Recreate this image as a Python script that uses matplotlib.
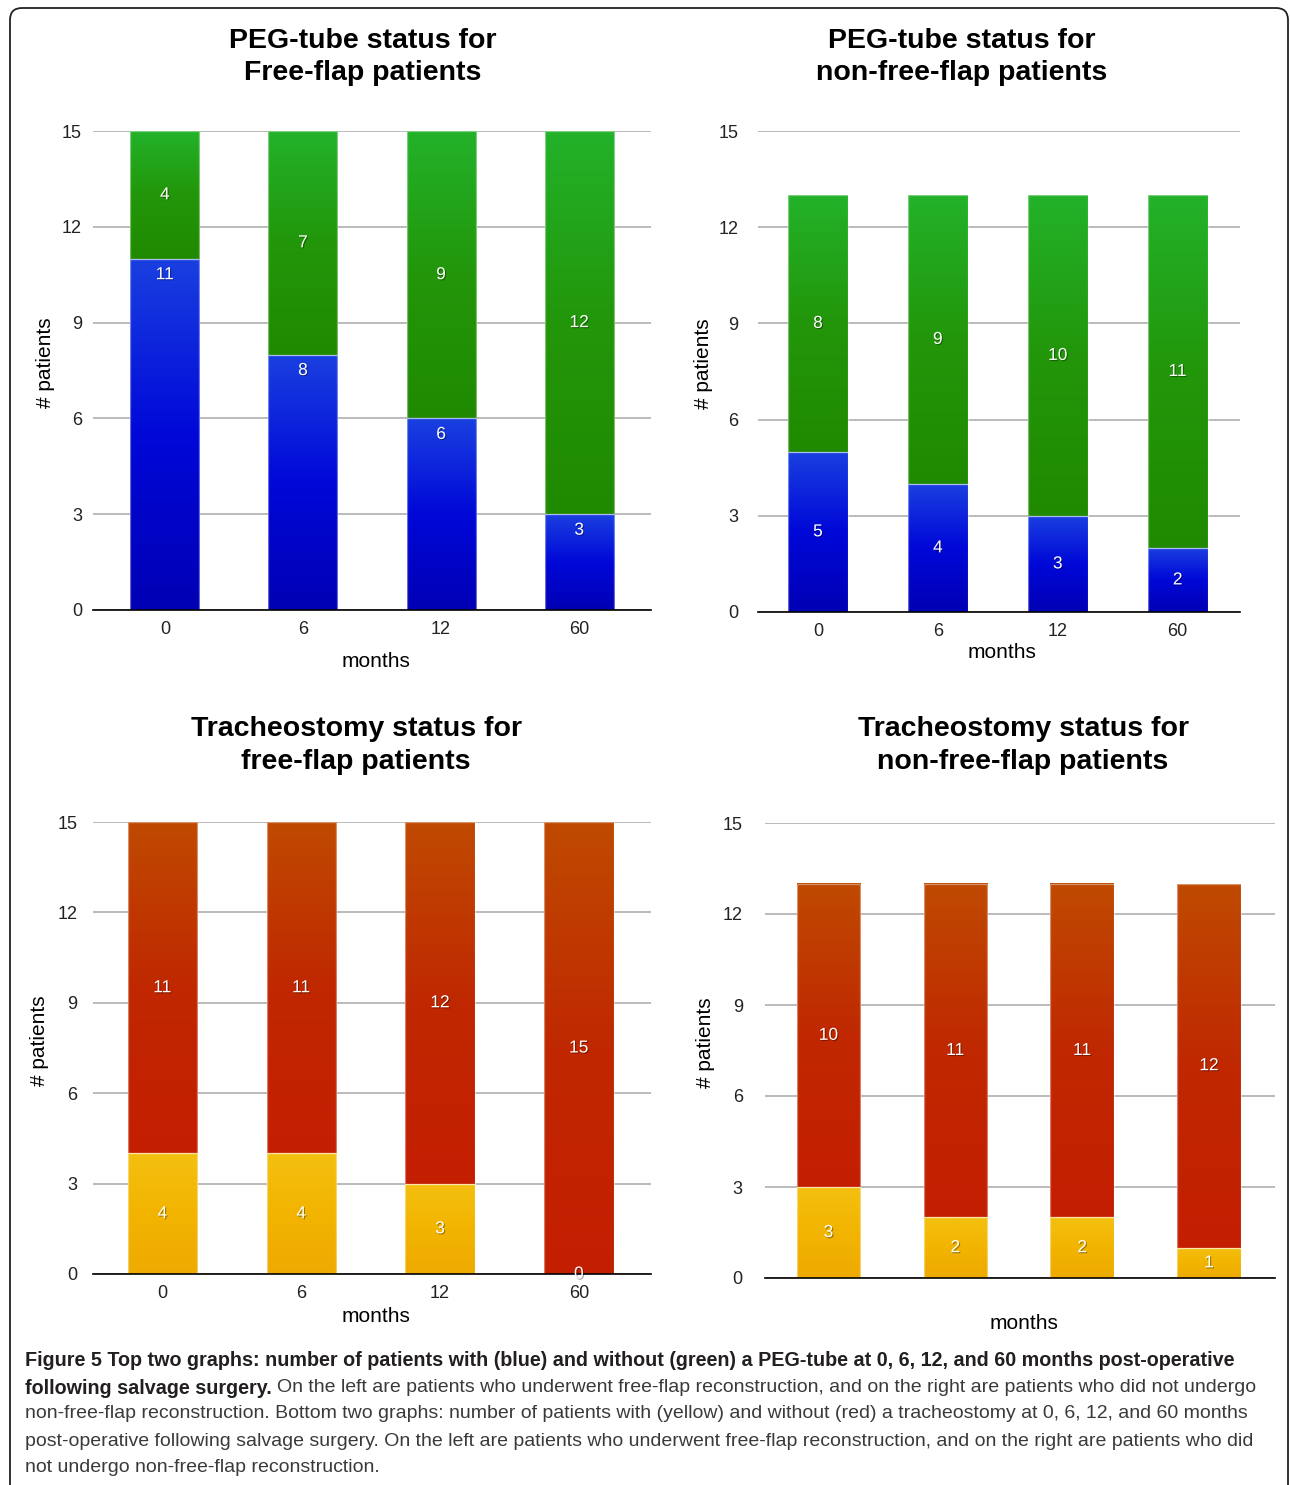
import matplotlib
matplotlib.use("Agg")
import matplotlib.pyplot as plt
import numpy as np
from matplotlib import font_manager
from matplotlib.colors import LinearSegmentedColormap
from matplotlib.patches import FancyBboxPatch
import matplotlib.patheffects as pe

# Data
months = ["0", "6", "12", "60"]

peg_ff_with = [11, 8, 6, 3]
peg_ff_without = [4, 7, 9, 12]
peg_nff_with = [5, 4, 3, 2]
peg_nff_without = [8, 9, 10, 11]

trach_ff_with = [4, 4, 3, 0]
trach_ff_without = [11, 11, 12, 15]
trach_nff_with = [3, 2, 2, 1]
trach_nff_without = [10, 11, 11, 12]

yticks = [0, 3, 6, 9, 12, 15]

# fonts
names = {f.name for f in font_manager.fontManager.ttflist}
sans = "Liberation Sans" if "Liberation Sans" in names else "DejaVu Sans"
narrow = "Liberation Sans Narrow" if "Liberation Sans Narrow" in names else sans
plt.rcParams["font.family"] = [sans, "DejaVu Sans"]

# gradient colour maps (bottom colour -> top colour)
blue_cm = LinearSegmentedColormap.from_list("b", ["#0000b4", "#0008d8", "#1a40e0"])
green_cm = LinearSegmentedColormap.from_list("g", ["#1f8a00", "#23960a", "#22b22a"])
yellow_cm = LinearSegmentedColormap.from_list("y", ["#eeaa00", "#f2b400", "#f4c010"])
red_cm = LinearSegmentedColormap.from_list("r", ["#c41e00", "#c02800", "#bf4a00"])

W, H = 1290, 1485
fig = plt.figure(figsize=(W / 100, H / 100), dpi=100)

# frame round the figure
frame = FancyBboxPatch((10, -30), 1278, H - 8 + 30, boxstyle="round,pad=0,rounding_size=12",
                       transform=None, fill=False, edgecolor="#222222", linewidth=1.3)
fig.patches.append(frame)


def px_axes(left, top, right, bottom):
    return fig.add_axes([left / W, 1 - bottom / H, (right - left) / W, (bottom - top) / H])


def stacked(ax, low, high, low_cm, high_cm, ypad, xpad, xlabel_y, ylabel_x,
            show_xticks=True, low_label_top=False):
    x = np.arange(len(months))
    width = 0.5
    b1 = ax.bar(x, low, width, color="none", edgecolor="none", zorder=3)
    b2 = ax.bar(x, high, width, bottom=low, color="none", edgecolor="none", zorder=3)
    grad = np.linspace(1, 0, 256).reshape(-1, 1)
    for bars, cm in ((b1, low_cm), (b2, high_cm)):
        for p in bars.patches:
            if p.get_height() <= 0:
                continue
            x0, y0 = p.get_x(), p.get_y()
            ax.imshow(grad, cmap=cm, vmin=0, vmax=1, aspect="auto", zorder=3,
                      extent=(x0, x0 + p.get_width(), y0, y0 + p.get_height()))
            ax.add_patch(plt.Rectangle((x0, y0), p.get_width(), p.get_height(), fill=False,
                                       edgecolor=(1, 1, 1, 0.4), linewidth=0.9, zorder=4))
    ax.set_xlim(-0.5, 3.52)
    ax.set_ylim(0, 15)
    ax.set_aspect("auto")

    shadow = [pe.withSimplePatchShadow(offset=(0.8, -0.8), shadow_rgbFace="black", alpha=0.35)]
    for i in range(len(months)):
        ly = low[i] - 0.5 if low_label_top else low[i] / 2
        ax.text(x[i], ly, str(low[i]), color="white", ha="center", va="center",
                fontsize=12.5, zorder=6, path_effects=shadow)
        ax.text(x[i], low[i] + high[i] / 2, str(high[i]), color="white", ha="center",
                va="center", fontsize=12.5, zorder=6, path_effects=shadow)

    ax.set_yticks(yticks)
    ax.yaxis.grid(True, color="#a8a8a8", linewidth=1.1, zorder=1)
    ax.set_axisbelow(True)
    for s in ("left", "right", "top"):
        ax.spines[s].set_visible(False)
    ax.spines["bottom"].set_color("black")
    ax.spines["bottom"].set_linewidth(1.2)
    ax.spines["bottom"].set_zorder(5)
    ax.tick_params(axis="y", length=0, pad=ypad, labelsize=13, labelcolor="#222222")
    ax.tick_params(axis="x", length=0, pad=xpad, labelsize=13, labelcolor="#222222")
    ax.set_xticks(x)
    ax.set_xticklabels(months if show_xticks else [])
    ax.set_xlabel("months", fontsize=15, va="center")
    ax.xaxis.set_label_coords(0.507, xlabel_y)
    ax.set_ylabel("# patients", fontsize=15, va="center")
    ax.yaxis.set_label_coords(ylabel_x, 0.517)


ax1 = px_axes(93, 131, 651, 610)
stacked(ax1, peg_ff_with, peg_ff_without, blue_cm, green_cm, 8, 8, -0.108, -0.086,
        low_label_top=True)
ax1.set_xlim(-0.52, 3.52)

ax2 = px_axes(758, 131, 1240, 612)
stacked(ax2, peg_nff_with, peg_nff_without, blue_cm, green_cm, 14, 8, -0.085, -0.114)

ax3 = px_axes(93, 822, 651, 1274)
stacked(ax3, trach_ff_with, trach_ff_without, yellow_cm, red_cm, 11, 8, -0.093, -0.095)

ax4 = px_axes(765, 823, 1275, 1278)
stacked(ax4, trach_nff_with, trach_nff_without, yellow_cm, red_cm, 16, 8, -0.101, -0.116,
        show_xticks=False)

# titles
title_kw = dict(ha="center", va="center", fontsize=20.5, fontweight="bold", linespacing=1.35)
fig.text(363 / W, 1 - 57 / H, "PEG-tube status for\nFree-flap patients", **title_kw)
fig.text(962 / W, 1 - 57 / H, "PEG-tube status for\nnon-free-flap patients", **title_kw)
fig.text(356 / W, 1 - 745 / H, "Tracheostomy status for\nfree-flap patients", **title_kw)
fig.text(1023 / W, 1 - 745 / H, "Tracheostomy status for\nnon-free-flap patients", **title_kw)

# caption
cap_size = 14.2
x0 = 25 / W
line_y = [1361, 1388, 1414, 1441, 1468]
bold_kw = dict(fontsize=cap_size, fontweight="bold", color="#231f20", va="center",
               family=[narrow, "DejaVu Sans"])
reg_kw = dict(fontsize=cap_size - 0.2, color="#3a3a3a", va="center", family=[narrow, "DejaVu Sans"])
fig.text(x0, 1 - line_y[0] / H, "Figure 5 Top two graphs: number of patients with (blue) and "
         "without (green) a PEG-tube at 0, 6, 12, and 60 months post-operative", **bold_kw)
t = fig.text(x0, 1 - line_y[1] / H, "following salvage surgery.", **bold_kw)
renderer = fig.canvas.get_renderer()
bb = t.get_window_extent(renderer=renderer)
fig.text(bb.x1 / W + 5 / W, 1 - line_y[1] / H, "On the left are patients who underwent free-flap "
         "reconstruction, and on the right are patients who did not undergo", **reg_kw)
fig.text(x0, 1 - line_y[2] / H, "non-free-flap reconstruction. Bottom two graphs: number of patients "
         "with (yellow) and without (red) a tracheostomy at 0, 6, 12, and 60 months", **reg_kw)
fig.text(x0, 1 - line_y[3] / H, "post-operative following salvage surgery. On the left are patients "
         "who underwent free-flap reconstruction, and on the right are patients who did", **reg_kw)
fig.text(x0, 1 - line_y[4] / H, "not undergo non-free-flap reconstruction.", **reg_kw)

fig.savefig("out.png", dpi=100)
